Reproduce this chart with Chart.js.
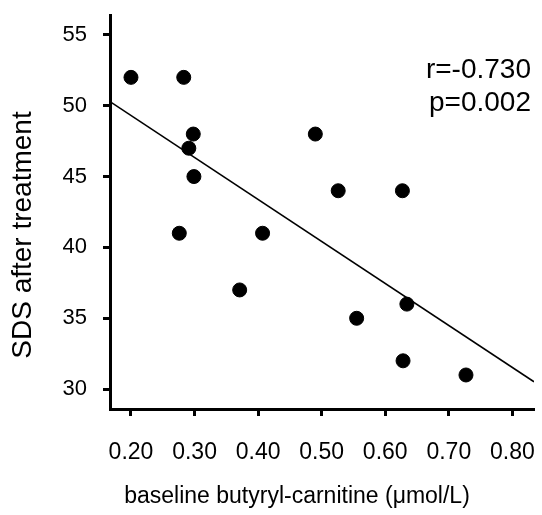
<!DOCTYPE html>
<html>
<head>
<meta charset="utf-8">
<script src="https://cdn.jsdelivr.net/npm/chart.js@4"></script>
<style>
  html, body { margin: 0; padding: 0; background: #fff; }
  #wrap { width: 542px; height: 515px; }
</style>
</head>
<body>
<div id="wrap"><canvas id="scatterChart"></canvas></div>
<script>
// Data
const butyrylCarnitine = [0.200, 0.283, 0.298, 0.291, 0.299, 0.276, 0.407, 0.371, 0.490, 0.526, 0.627, 0.634, 0.555, 0.628, 0.727];
const sdsAfter = [52, 52, 48, 47, 45, 41, 41, 37, 48, 44, 44, 36, 35, 32, 31];

const xTicks = [0.2, 0.3, 0.4, 0.5, 0.6, 0.7, 0.8];
const yTicks = [30, 35, 40, 45, 50, 55];
const xRange = [0.167, 0.834];
const yRange = [28.6, 56.4];

// Regression line  y = intercept + slope * x
const fitIntercept = 55.24;
const fitSlope = -29.64;
const statsText = ['r=-0.730', 'p=0.002'];

const xTitle = 'baseline butyryl-carnitine (\u03bcmol/L)';
const yTitle = 'SDS after treatment';

const FONT = '"Liberation Sans", Arial, Helvetica, sans-serif';

const points = butyrylCarnitine.map((x, i) => ({ x, y: sdsAfter[i] }));
const fitLine = xRange.map(x => ({ x, y: fitIntercept + fitSlope * x }));

// Draws the r / p annotation and the two axis titles
const labelsPlugin = {
  id: 'labels',
  afterDraw(chart) {
    const { ctx, chartArea } = chart;
    ctx.save();
    ctx.fillStyle = '#000';
    ctx.textBaseline = 'middle';

    ctx.font = '28px ' + FONT;
    ctx.textAlign = 'right';
    statsText.forEach((t, i) => {
      ctx.fillText(t, chartArea.right - 3, chartArea.top + 55 + i * 33);
    });

    // x title sits a bit left of the plot centre in the original
    ctx.font = '23px ' + FONT;
    ctx.textAlign = 'center';
    ctx.fillText(xTitle, chartArea.left + 187, chartArea.bottom + 88);

    // y title, rotated
    ctx.font = '28px ' + FONT;
    ctx.translate(23, chartArea.top + 220);
    ctx.rotate(-Math.PI / 2);
    ctx.fillText(yTitle, 0, 0);
    ctx.restore();
  }
};

const axisCommon = {
  type: 'linear',
  border: { display: true, color: '#000', width: 3 },
  grid: {
    drawOnChartArea: false,
    drawTicks: true,
    tickLength: 7,
    tickWidth: 3,
    tickColor: '#000'
  }
};

new Chart(document.getElementById('scatterChart'), {
  type: 'scatter',
  data: {
    datasets: [
      {
        label: 'fit',
        type: 'line',
        data: fitLine,
        borderColor: '#000',
        borderWidth: 1.6,
        pointRadius: 0,
        fill: false,
        tension: 0
      },
      {
        label: 'patients',
        data: points,
        backgroundColor: '#000',
        borderColor: '#000',
        pointRadius: 7,
        pointHoverRadius: 7
      }
    ]
  },
  plugins: [labelsPlugin],
  options: {
    responsive: true,
    maintainAspectRatio: false,
    animation: false,
    layout: { padding: { top: 15, right: 5, left: 0, bottom: 0 } },
    plugins: {
      legend: { display: false },
      tooltip: { enabled: false }
    },
    scales: {
      x: {
        ...axisCommon,
        min: xRange[0],
        max: xRange[1],
        afterBuildTicks: s => { s.ticks = xTicks.map(v => ({ value: v })); },
        afterFit: s => { s.height = 106; s.paddingLeft = 0; s.paddingRight = 0; },
        ticks: {
          color: '#000',
          padding: 23,
          maxRotation: 0,
          font: { family: FONT, size: 23 },
          callback: v => v.toFixed(2)
        }
      },
      y: {
        ...axisCommon,
        min: yRange[0],
        max: yRange[1],
        afterBuildTicks: s => { s.ticks = yTicks.map(v => ({ value: v })); },
        afterFit: s => { s.width = 110; s.paddingTop = 0; s.paddingBottom = 0; },
        ticks: {
          color: '#000',
          padding: 16,
          font: { family: FONT, size: 22 }
        }
      }
    }
  }
});
</script>
</body>
</html>
